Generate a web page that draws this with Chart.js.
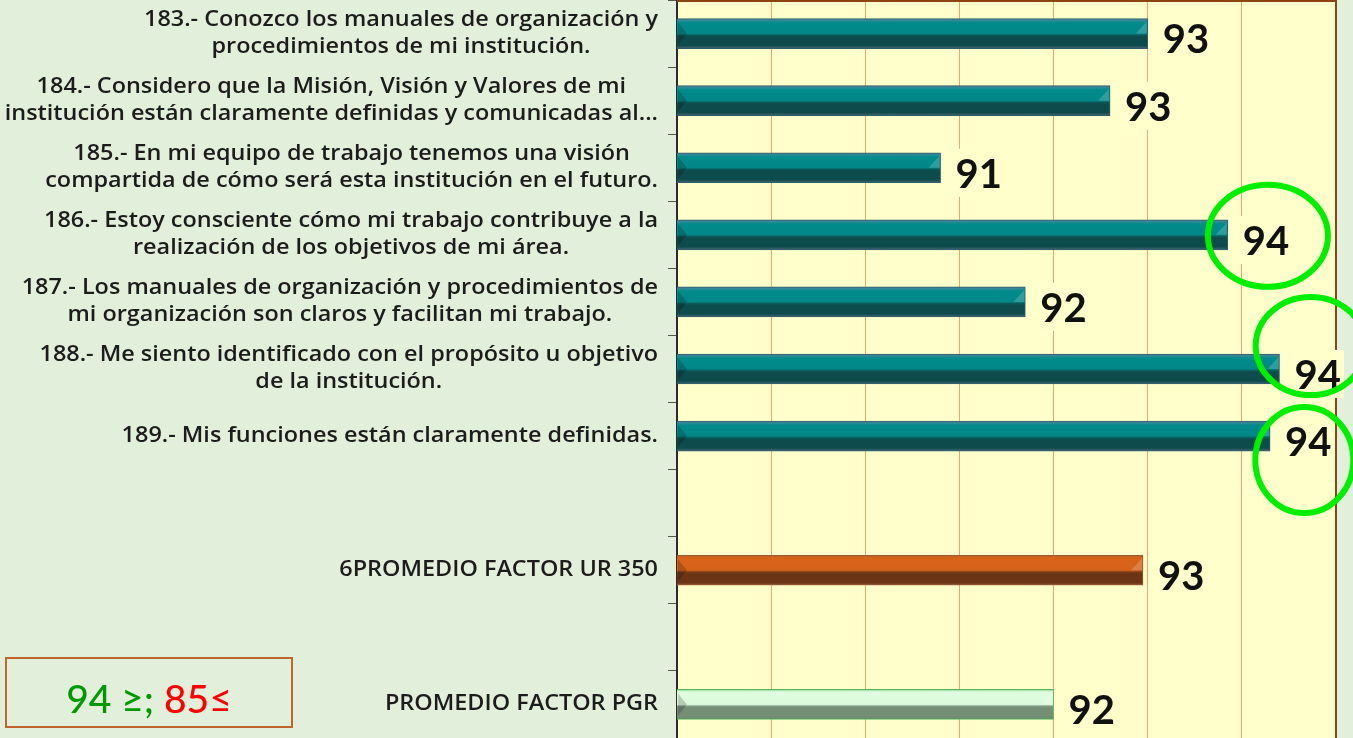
<!DOCTYPE html>
<html>
<head>
<meta charset="utf-8">
<script src="https://cdn.jsdelivr.net/npm/chart.js@4/dist/chart.umd.min.js"></script>
<style>
  html, body { margin: 0; padding: 0; background: #e2efda; }
  #wrap { position: relative; width: 1353px; height: 738px; overflow: hidden; }
  #chart { position: absolute; left: 0; top: 0; }
  #legendBox {
    position: absolute; left: 5px; top: 657px; width: 284px;
    border: 2px solid #c0652c; box-sizing: content-box;
    font-family: Lato, "Noto Sans", sans-serif; font-size: 39px; font-weight: 500;
    text-align: center; line-height: 67px; padding-top: 6px; height: 61px;
  }
  #legendBox .ok { color: #009a00; }
  #legendBox .bad { color: #ff0000; }
</style>
</head>
<body>
<div id="wrap">
  <canvas id="chart" width="1353" height="738"></canvas>
  <div id="legendBox"><span class="ok">94 ≥;</span> <span class="bad">85≤</span></div>
</div>
<script>
const categories = [
  ['183.- Conozco los manuales de organización y', 'procedimientos de mi institución.'],
  ['184.- Considero que la Misión, Visión y Valores de mi', 'institución están claramente definidas y comunicadas al...'],
  ['185.- En mi equipo de trabajo tenemos una visión', 'compartida de cómo será esta institución en el futuro.'],
  ['186.- Estoy consciente cómo mi trabajo contribuye a la', 'realización de los objetivos de mi área.'],
  ['187.- Los manuales de organización y procedimientos de', 'mi organización son claros y facilitan mi trabajo.'],
  ['188.- Me siento identificado con el propósito u objetivo', 'de la institución.'],
  ['189.- Mis funciones están claramente definidas.'],
  [''],
  ['6PROMEDIO FACTOR UR 350'],
  [''],
  ['PROMEDIO FACTOR PGR'],
];
const values = [93.0, 92.6, 90.8, 93.85, 91.7, 94.4, 94.3, null, 92.95, null, 92.0];
const barKinds = ['item', 'item', 'item', 'item', 'item', 'item', 'item', '', 'ur', '', 'pgr'];
const highlighted = [3, 5, 6];
const axisMin = 88;
const axisMax = 95;

// circle offsets from the value label centre: [dx, dy, rx, ry]
const circleShape = {
  3: [2, -4, 60, 51],
  5: [-7, -28, 55, 49],
  6: [-4, 19, 49, 53],
};

const palette = {
  page: '#e2efda',
  plot: '#ffffcc',
  grid: '#f2a475',
  frame: '#8b4513',
  axis: '#2b2b2b',
  text: '#1c1c1c',
  circle: '#00ee00',
  item: {
    stops: [[0, '#557f95'], [0.07, '#2b8a96'], [0.14, '#018b8b'], [0.5, '#028787'], [0.56, '#0e5657'], [0.62, '#0d4b4d'], [0.9, '#0d4b4d'], [1, '#4a6670']],
    border: '#2f5d6e',
  },
  ur: {
    stops: [[0, '#b0622e'], [0.08, '#d9631a'], [0.5, '#d6621a'], [0.56, '#7a3c17'], [0.62, '#6b3515'], [0.92, '#6b3515'], [1, '#8b5a3a']],
    border: '#9a5a30',
  },
  pgr: {
    stops: [[0, '#7fcf7f'], [0.08, '#e0ffe0'], [0.5, '#dcf8dc'], [0.56, '#7f9c82'], [0.62, '#748f76'], [0.92, '#748f76'], [1, '#5a8a5c']],
    border: '#5cb35c',
  },
};

const BAR_THICK = 30;
const labelFont = '600 21px "Open Sans", Lato, sans-serif';
const labelStretch = 1.115;
const valueFont = '700 40px Lato, "Noto Sans", sans-serif';

function barFill(ctx) {
  const kind = barKinds[ctx.dataIndex];
  const spec = palette[kind] || palette.item;
  const chart = ctx.chart;
  const yScale = chart.scales && chart.scales.y;
  if (!chart.chartArea || !yScale) {
    return spec.stops[2][1];
  }
  const yc = yScale.getPixelForValue(ctx.dataIndex);
  const g = chart.ctx.createLinearGradient(0, yc - BAR_THICK / 2, 0, yc + BAR_THICK / 2);
  spec.stops.forEach(([p, c]) => g.addColorStop(p, c));
  return g;
}

const plotBackground = {
  id: 'plotBackground',
  beforeDraw(chart) {
    const { ctx, chartArea: a } = chart;
    ctx.save();
    ctx.fillStyle = palette.plot;
    ctx.fillRect(a.left, a.top, a.right - a.left, a.bottom - a.top);
    ctx.restore();
  },
  beforeDatasetsDraw(chart) {
    const { ctx, chartArea: a } = chart;
    ctx.save();
    ctx.strokeStyle = palette.frame;
    ctx.lineWidth = 2;
    ctx.beginPath();
    ctx.moveTo(a.left, a.top + 1);
    ctx.lineTo(a.right, a.top + 1);
    ctx.lineTo(a.right, a.bottom);
    ctx.stroke();
    ctx.restore();
  },
};

// Excel-like category labels: each block right aligned, lines centred inside the block
const categoryLabels = {
  id: 'categoryLabels',
  afterDraw(chart) {
    const { ctx } = chart;
    const yScale = chart.scales.y;
    const right = yScale.right - 19;
    const lineH = 27;
    ctx.save();
    ctx.translate(right, 0);
    ctx.scale(labelStretch, 1);
    ctx.font = labelFont;
    ctx.fillStyle = palette.text;
    ctx.textAlign = 'center';
    ctx.textBaseline = 'middle';
    categories.forEach((lines, i) => {
      const widest = Math.max(...lines.map((l) => ctx.measureText(l).width));
      const cx = -widest / 2;
      const yc = yScale.getPixelForValue(i);
      const top = yc - ((lines.length - 1) * lineH) / 2;
      lines.forEach((l, k) => ctx.fillText(l, cx, top + k * lineH));
    });
    ctx.restore();
  },
};

const valueLabels = {
  id: 'valueLabels',
  afterDatasetsDraw(chart) {
    const { ctx } = chart;
    const meta = chart.getDatasetMeta(0);
    ctx.save();
    ctx.font = valueFont;
    meta.data.forEach((bar, i) => {
      if (values[i] == null) return;
      const { x, y } = bar.getProps(['x', 'y'], true);
      // bevel ends
      const top = y - BAR_THICK / 2;
      ctx.fillStyle = 'rgba(0,0,0,0.18)';
      ctx.beginPath();
      ctx.moveTo(chart.chartArea.left + 1, top + 4);
      ctx.lineTo(chart.chartArea.left + 10, y);
      ctx.lineTo(chart.chartArea.left + 1, top + BAR_THICK - 4);
      ctx.closePath();
      ctx.fill();
      ctx.fillStyle = 'rgba(255,255,255,0.18)';
      ctx.beginPath();
      ctx.moveTo(x - 1, top + 3);
      ctx.lineTo(x - 12, y);
      ctx.lineTo(x - 1, y);
      ctx.closePath();
      ctx.fill();

      const txt = String(Math.round(values[i]));
      const w = ctx.measureText(txt).width;
      const lx = x + 15;
      const ly = y + 5;
      ctx.fillStyle = palette.plot;
      ctx.fillRect(lx - 3, ly - 24, w + 6, 48);
      ctx.fillStyle = '#111111';
      ctx.textAlign = 'left';
      ctx.textBaseline = 'middle';
      ctx.fillText(txt, lx, ly + 2);
      if (highlighted.includes(i)) {
        const [dx, dy, rx, ry] = circleShape[i];
        ctx.save();
        ctx.strokeStyle = palette.circle;
        ctx.lineWidth = 6;
        ctx.beginPath();
        ctx.ellipse(lx + w / 2 + dx, ly + dy, rx, ry, 0, 0, Math.PI * 2);
        ctx.stroke();
        ctx.restore();
      }
    });
    ctx.restore();
  },
};

new Chart(document.getElementById('chart').getContext('2d'), {
  type: 'bar',
  data: {
    labels: categories.map((c) => c.join(' ')),
    datasets: [{
      data: values,
      backgroundColor: barFill,
      borderColor: (ctx) => (palette[barKinds[ctx.dataIndex]] || palette.item).border,
      borderWidth: 1,
      borderSkipped: 'start',
      barThickness: BAR_THICK,
    }],
  },
  options: {
    indexAxis: 'y',
    responsive: false,
    animation: false,
    layout: { padding: { top: 0, right: 17, bottom: 0, left: 0 } },
    plugins: {
      legend: { display: false },
      tooltip: { enabled: false },
    },
    scales: {
      x: {
        min: axisMin,
        max: axisMax,
        ticks: { display: false, stepSize: 1 },
        grid: { color: palette.grid, drawTicks: false, lineWidth: 1 },
        border: { display: false },
      },
      y: {
        ticks: { display: false },
        grid: { drawOnChartArea: false, tickLength: 9, color: '#555555', offset: true },
        border: { display: true, color: palette.axis, width: 2 },
        afterFit(scale) { scale.width = 677; },
      },
    },
  },
  plugins: [plotBackground, categoryLabels, valueLabels],
});
</script>
</body>
</html>
